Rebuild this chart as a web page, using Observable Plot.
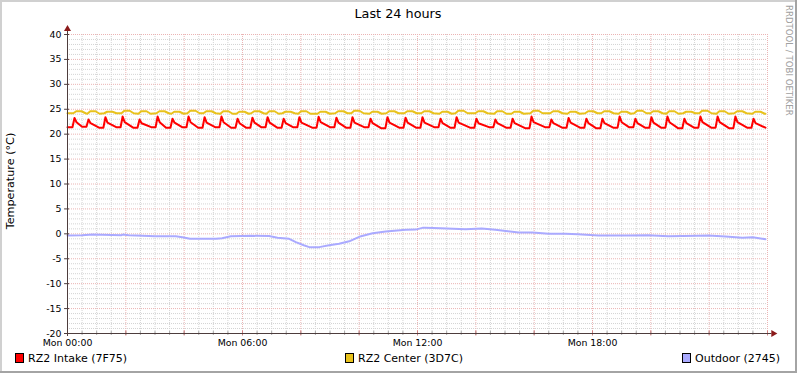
<!DOCTYPE html>
<html><head><meta charset="utf-8">
<script src="https://cdn.jsdelivr.net/npm/d3@7"></script>
<script src="https://cdn.jsdelivr.net/npm/@observablehq/plot@0.6"></script>
<style>body{margin:0;background:#fff}svg{display:block}</style>
</head><body><div id="chart"></div>
<script>
// ---- data (hours since Mon 00:00, °C) ----
const cycleHours = [0.24,0.72,1.30,1.89,2.47,3.09,3.60,4.15,4.70,5.28,5.83,6.34,6.86,7.41,7.95,8.61,9.22,9.77,10.39,10.97,11.59,12.17,12.79,13.34,14.02,14.67,15.26,15.91,16.59,17.18,17.79,18.34,18.93,19.47,20.02,20.57,21.15,21.70,22.29,22.90,23.52];
const intakePeak = [23.25,22.95,23.4,23.55,22.95,23.55,23.1,23.55,23.4,23.55,23.1,23.3,23.4,23.1,23.4,23.5,23.3,23.4,23.1,23.4,23.3,23.4,23.1,23.4,23.1,22.95,23.1,23.55,22.95,23.25,23.1,23.1,23.55,23.1,23.4,23.55,23.1,23.55,23.55,23.55,23.1];
const intakeTrough = [21.4,21.5,21.3,21.4,21.3,21.4,21.3,21.4,21.3,21.4,21.3,21.3,21.4,21.3,21.4,21.3,21.4,21.3,21.4,21.2,21.3,21.3,21.4,21.3,21.3,21.4,21.3,21.2,21.4,21.3,21.3,21.2,21.3,21.4,21.3,21.3,21.2,21.3,21.3,21.2,21.3];
const intakeShoulder = [22.4,22.2,22.3,22.4,22.2,22.4,22.3,22.4,22.3,22.4,22.2,22.3,22.3,22.2,22.3,22.4,22.3,22.3,22.2,22.3,22.3,22.3,22.2,22.3,22.2,22.2,22.2,22.4,22.2,22.3,22.2,22.2,22.4,22.2,22.3,22.4,22.2,22.4,22.4,22.4,22.2];
const intakeEnd = [23.93, 21.3];
const centerBase = [24.2,24.1,24.2,24.2,24.1,24.2,24.1,24.2,24.2,24.1,24.1,24.2,24.1,24.2,24.1,24.1,24.2,24.2,24.1,24.2,24.2,24.2,24.1,24.2,24.2,24.1,24.1,24.2,24.2,24.1,24.2,24.2,24.1,24.2,24.2,24.1,24.2,24.2,24.1,24.2,24.1];
const centerTop  = [24.6,24.6,24.5,24.7,24.6,24.6,24.5,24.7,24.6,24.6,24.5,24.6,24.6,24.5,24.6,24.5,24.6,24.7,24.5,24.6,24.6,24.6,24.5,24.7,24.6,24.6,24.5,24.7,24.6,24.5,24.6,24.6,24.5,24.7,24.6,24.6,24.5,24.7,24.6,24.6,24.5];
const centerEnd = [23.93, 24.1];
const outdoorHours = [0,0.5,0.86,1.85,1.9,2.1,2.57,3.0,3.71,3.94,4.2,5.09,5.3,5.6,6.3,6.91,7.2,7.6,7.83,8.1,8.29,8.63,8.97,9.31,9.66,10.0,10.46,10.91,11.6,11.93,12.17,12.27,12.79,13.65,14.2,14.67,15.1,15.46,15.94,16.5,17.07,17.5,18.2,19.2,19.9,20.6,21.6,21.97,22.56,23.14,23.49,23.93];
const outdoorTemps = [-0.33,-0.3,-0.15,-0.27,-0.15,-0.27,-0.4,-0.5,-0.5,-0.67,-1.0,-1.0,-0.87,-0.5,-0.4,-0.45,-0.8,-1.0,-1.67,-2.3,-2.67,-2.67,-2.3,-2.0,-1.5,-0.6,0.13,0.47,0.8,0.85,1.2,1.2,1.13,0.93,1.07,0.8,0.53,0.27,0.27,0,0,-0.1,-0.33,-0.33,-0.27,-0.47,-0.4,-0.33,-0.53,-0.8,-0.67,-1.07];
const xLabelHours = [0, 6, 12, 18];
const xLabelDay = "Mon";
const yTicks = d3.range(-20, 41, 5);
const seriesNames = ["RZ2 Intake (7F75)", "RZ2 Center (3D7C)", "Outdoor (2745)"];
const seriesColors = ["#FF0000", "#E8C21C", "#AAAAFF"];

// ---- build line vertices ----
const intakePts = [{h: 0, t: intakeTrough[0]}];
cycleHours.forEach((h, i) => {
  if (i > 0) intakePts.push({h: h - 0.22, t: intakeTrough[i]});
  intakePts.push({h: h - 0.07, t: intakeTrough[i]});
  intakePts.push({h: h, t: intakePeak[i]});
  intakePts.push({h: h + 0.07, t: intakeShoulder[i]});
});
intakePts.push({h: intakeEnd[0], t: intakeEnd[1]});

const centerPts = [{h: 0, t: centerBase[0]}];
cycleHours.forEach((h, i) => {
  centerPts.push({h: h - 0.04, t: centerBase[i]});
  centerPts.push({h: h + 0.06, t: centerTop[i]});
  centerPts.push({h: h + 0.24, t: centerTop[i]});
  centerPts.push({h: h + 0.38, t: centerBase[i]});
});
centerPts.push({h: centerEnd[0], t: centerEnd[1]});

const outdoorPts = outdoorHours.map((h, i) => ({h, t: outdoorTemps[i]}));

const pad = n => String(n).padStart(2, "0");
const axisCol = "#4d3d3d", arrowCol = "#8b1a1a";
const minorGrid = "#d4d4d4", majorGrid = "#ebb4b4";

const svg = Plot.plot({
  width: 797, height: 373,
  marginLeft: 67, marginRight: 30, marginTop: 34, marginBottom: 40,
  x: {domain: [0, 24], axis: null},
  y: {domain: [-20, 40], axis: null},
  style: {fontFamily: "DejaVu Sans", fontSize: "9.4px", background: "white", overflow: "visible"},
  marks: [
    Plot.ruleX(d3.range(0.5, 24.01, 0.5).filter(h => h % 2 !== 0), {x: d => d, y1: -20, y2: 40, stroke: minorGrid, strokeDasharray: "1,1"}),
    Plot.ruleY(d3.range(-20, 40.1, 1).filter(v => v % 5 !== 0), {y: d => d, x1: 0, x2: 24, stroke: minorGrid, strokeDasharray: "1,1"}),
    Plot.ruleX(d3.range(2, 24.01, 2), {x: d => d, y1: -20, y2: 40, stroke: majorGrid, strokeDasharray: "1,1"}),
    Plot.ruleY(yTicks, {y: d => d, x1: 0, x2: 24, stroke: majorGrid, strokeDasharray: "1,1"}),
    Plot.line(outdoorPts, {x: "h", y: "t", stroke: seriesColors[2], strokeWidth: 2, curve: "linear"}),
    Plot.line(centerPts, {x: "h", y: "t", stroke: seriesColors[1], strokeWidth: 2}),
    Plot.line(intakePts, {x: "h", y: "t", stroke: seriesColors[0], strokeWidth: 2}),
    // axis ticks
    Plot.ruleX(d3.range(0.5, 24.01, 0.5), {x: d => d, y1: -20.4, y2: -19.6, stroke: "#aaa"}),
    Plot.ruleX(d3.range(2, 24.01, 2), {x: d => d, y1: -20.5, y2: -19.5, stroke: "#d08080"}),
    Plot.ruleY(yTicks, {y: d => d, x1: -0.1, x2: 0.07, stroke: axisCol}),
    // axis lines + arrows
    Plot.ruleX([0], {y1: -20.6, y2: 41.0, stroke: axisCol}),
    Plot.ruleY([-20], {x1: -0.1, x2: 24.15, stroke: axisCol}),
    Plot.dot([{h: 0, t: 41.1}], {x: "h", y: "t", symbol: "triangle", r: 2.6, fill: arrowCol, stroke: "none"}),
    Plot.dot([{h: 24.2, t: -20}], {x: "h", y: "t", symbol: "triangle", r: 2.6, fill: arrowCol, stroke: "none", rotate: 90}),
    // tick labels
    Plot.text(yTicks, {x: 0, y: d => d, text: d => String(d), dx: -6, textAnchor: "end", fill: "#000", fontSize: 9.4}),
    Plot.text(xLabelHours, {x: d => d, y: -20, text: d => `${xLabelDay} ${pad(d)}:00`, dy: 9.5, fill: "#000", fontSize: 9.4})
  ]
});
document.getElementById("chart").appendChild(svg);

const s = d3.select(svg);
// frame
s.append("rect").attr("x", 0).attr("y", 0).attr("width", 797).attr("height", 2).attr("fill", "#d0d0d0");
s.append("rect").attr("x", 0).attr("y", 0).attr("width", 2).attr("height", 373).attr("fill", "#d0d0d0");
s.append("rect").attr("x", 0).attr("y", 371).attr("width", 797).attr("height", 2).attr("fill", "#a4a4a4");
s.append("rect").attr("x", 795).attr("y", 0).attr("width", 2).attr("height", 373).attr("fill", "#a4a4a4");
// title
s.append("text").attr("x", 398).attr("y", 18).attr("text-anchor", "middle")
  .attr("font-family", "DejaVu Sans").attr("font-size", 12.8).attr("fill", "#000").text("Last 24 hours");
// y label
s.append("text").attr("transform", "translate(14,181) rotate(-90)").attr("text-anchor", "middle")
  .attr("font-family", "DejaVu Sans").attr("font-size", 11.2).attr("fill", "#000").text("Temperature (°C)");
// watermark
s.append("text").attr("transform", "translate(786,5) rotate(90)").attr("text-anchor", "start")
  .attr("font-family", "DejaVu Sans").attr("font-size", 8.6).attr("fill", "#a0a0a0").text("RRDTOOL / TOBI OETIKER");
// legend
const legX = [15, 345, 682];
seriesNames.forEach((name, i) => {
  s.append("rect").attr("x", legX[i] + 0.5).attr("y", 353.5).attr("width", 8).attr("height", 9)
    .attr("fill", seriesColors[i]).attr("stroke", "#000").attr("stroke-width", 1);
  s.append("text").attr("x", legX[i] + 13).attr("y", 362).attr("text-anchor", "start").attr("font-family", "DejaVu Sans")
    .attr("font-size", 11).attr("fill", "#000").text(name);
});
</script>
</body></html>
